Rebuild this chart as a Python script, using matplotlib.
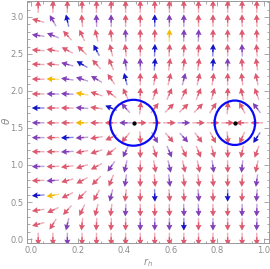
import numpy as np
import matplotlib
matplotlib.use('Agg')
import matplotlib.pyplot as plt
from matplotlib.patches import Ellipse

# sample grid
r_grid = [0.031, 0.094, 0.156, 0.219, 0.281, 0.344, 0.406, 0.469,
          0.531, 0.594, 0.656, 0.719, 0.781, 0.844, 0.906, 0.969]
theta_grid = [3.14, 2.95, 2.75, 2.55, 2.36, 2.16, 1.96, 1.77, 1.57,
              1.37, 1.18, 0.98, 0.79, 0.59, 0.39, 0.20, 0.0]

# arrow direction in degrees, rows top (theta=pi) to bottom (theta=0)
angle_rows = [
    [90, 90, 90, 90, 90, 90, 90, 90, 90, 90, 90, 90, 90, 90, 90, 90],
    [165, 120, 103, 95, 92, 91, 90, 90, 90, 90, 90, 90, 90, 90, 91, 92],
    [172, 158, 132, 115, 103, 96, 93, 90, 89, 88, 88, 88, 89, 90, 91, 92],
    [176, 170, 152, 136, 118, 104, 96, 91, 88, 86, 86, 86, 88, 90, 92, 94],
    [178, 175, 165, 150, 132, 112, 99, 92, 85, 82, 82, 82, 85, 90, 95, 98],
    [179, 178, 172, 162, 150, 125, 104, 90, 80, 77, 76, 77, 82, 89, 97, 102],
    [180, 179, 177, 170, 162, 143, 115, 88, 72, 67, 65, 68, 75, 88, 102, 110],
    [180, 180, 179, 176, 172, 158, 132, 84, 52, 45, 43, 46, 57, 85, 118, 128],
    [180, 180, 180, 180, 180, 180, 180, 0, 0, 0, 0, 0, 0, 0, 180, 180],
    [180, 181, 182, 184, 189, 204, 230, 274, 300, 310, 312, 307, 298, 275, 245, 237],
    [180, 181, 183, 190, 198, 218, 245, 270, 287, 293, 294, 292, 285, 272, 258, 250],
    [181, 182, 187, 197, 208, 235, 257, 269, 280, 283, 283, 282, 278, 271, 264, 258],
    [182, 184, 195, 208, 225, 248, 262, 269, 275, 277, 277, 277, 275, 270, 266, 262],
    [184, 190, 206, 225, 242, 256, 264, 269, 272, 274, 274, 274, 272, 270, 268, 266],
    [188, 205, 228, 245, 256, 263, 267, 270, 271, 272, 272, 272, 271, 270, 269, 268],
    [195, 238, 257, 264, 267, 268, 269, 270, 270, 270, 270, 270, 270, 270, 269, 268],
    [270, 270, 270, 270, 270, 270, 270, 270, 270, 270, 270, 270, 270, 270, 270, 270],
]

# R red, P purple, B blue, Y yellow
color_rows = [
    "RRRRRRRRRRRRRRRR",
    "RPBRPPRRBPPRRRRR",
    "PPRRRRPRRYPPRRRR",
    "RRRRBRRRBRRRBRPR",
    "RRPBRRPPBRRRBPRR",
    "RYPPPRBRRRPRRRRR",
    "RPPYRRRRRRRRRRRR",
    "BRRPRBPRRRRRRRRP",
    "PRRYRRPRRRPRRRRR",
    "PRBPRRRRPRPRRRRB",
    "RRPRRRPRRPRRRRRR",
    "PRRRRPPRRPRRPRPR",
    "RPRRRRPRRPRRRRRP",
    "BYRRRPRRBRRPRBRP",
    "RRRRRRPRRRPPRRPP",
    "RRPRRRRPPPBRPRRP",
    "RRPRRRRRRRRRRRRR",
]

# zero points and the contours drawn around them
zero_r = [0.44, 0.875]
zero_theta = [1.5708, 1.5708]
contour_a = [0.10, 0.087]
contour_b = [0.31, 0.30]

palette = {'R': '#dc5a70', 'P': '#8240b8', 'B': '#1414c8', 'Y': '#f4b800'}

W, H = 270, 269
fig = plt.figure(figsize=(W / 100, H / 100), dpi=100)
ax_left, ax_bot, ax_w, ax_h = 27 / W, 26 / H, 242 / W, 242 / H
ax = fig.add_axes([ax_left, ax_bot, ax_w, ax_h])
xmin, xmax = -0.0172, 1.0215
ymin, ymax = -0.054, 3.216
ax.set_xlim(xmin, xmax)
ax.set_ylim(ymin, ymax)

sx = ax_w * W / (xmax - xmin)
sy = ax_h * H / (ymax - ymin)

X, Y, U, V, cols, light = [], [], [], [], [], []
for j, th in enumerate(theta_grid):
    for i, r in enumerate(r_grid):
        a = np.deg2rad(angle_rows[j][i])
        X.append(r)
        Y.append(th)
        U.append(np.cos(a))
        V.append(np.sin(a))
        c = np.array(matplotlib.colors.to_rgb(palette[color_rows[j][i]]))
        cols.append(c)
        light.append(c + (1 - c) * 0.5)
X, Y, U, V = map(np.array, (X, Y, U, V))

L = 12.5
# pale full arrow, then the stronger front part on top
ax.quiver(X, Y, U, V, color=light, pivot='middle', angles='uv',
          units='dots', scale_units='dots', scale=1 / L,
          width=1.4, headwidth=4.2, headlength=4.0, headaxislength=3.6, zorder=2)
hx = X + U * (L / 2) / sx
hy = Y + V * (L / 2) / sy
ax.quiver(hx, hy, U * 0.65, V * 0.65, color=cols, pivot='tip', angles='uv',
          units='dots', scale_units='dots', scale=1 / L,
          width=1.4, headwidth=4.2, headlength=4.0, headaxislength=3.6, zorder=3)

for k in range(len(zero_r)):
    ax.add_patch(Ellipse((zero_r[k], zero_theta[k]), 2 * contour_a[k], 2 * contour_b[k],
                         fill=False, edgecolor='#0a0af5', lw=1.6, zorder=4))
ax.plot(zero_r, zero_theta, 'o', color='black', ms=2.1, zorder=5)

gray = '#9a9a9a'
for s in ax.spines.values():
    s.set_color(gray)
    s.set_linewidth(0.7)
ax.set_xticks([0.0, 0.2, 0.4, 0.6, 0.8, 1.0])
ax.set_xticklabels(['0.0', '0.2', '0.4', '0.6', '0.8', '1.0'])
ax.set_yticks([0.0, 0.5, 1.0, 1.5, 2.0, 2.5, 3.0])
ax.set_yticklabels(['0.0', '0.5', '1.0', '1.5', '2.0', '2.5', '3.0'])
ax.set_xticks(np.arange(0, 1.01, 0.05), minor=True)
ax.set_yticks(np.arange(0, 3.21, 0.1), minor=True)
ax.tick_params(which='both', direction='in', top=True, right=True, color=gray,
               labelcolor='#8c8c8c', labelsize=6, width=0.6)
ax.tick_params(which='major', length=3.5, pad=2.5)
ax.tick_params(which='minor', length=1.8)

fig.text(148 / W, 1 - 263 / H, '$r_h$', color='#8c8c8c', fontsize=7, ha='center', va='center')
fig.text(6 / W, 1 - 121 / H, r'$\theta$', color='#8c8c8c', fontsize=7.5, rotation=90,
         ha='center', va='center')

fig.savefig('out.png', dpi=100)
